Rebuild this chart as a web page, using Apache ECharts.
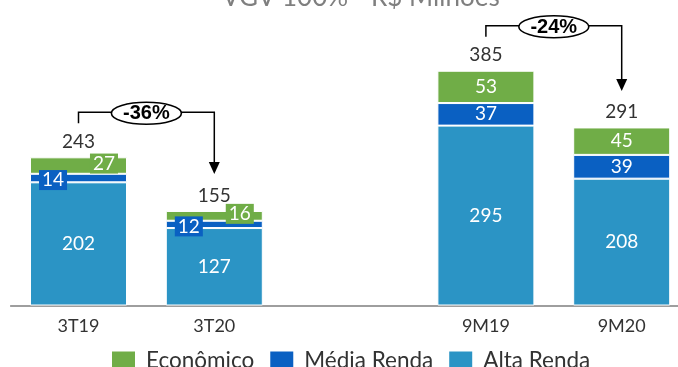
<!DOCTYPE html>
<html>
<head>
<meta charset="utf-8">
<script src="https://cdn.jsdelivr.net/npm/echarts@6/dist/echarts.min.js"></script>
<style>
  html, body { margin: 0; padding: 0; background: #fff; }
  #chart { width: 678px; height: 367px; }
</style>
</head>
<body>
<div id="chart"></div>
<script>
// Launch value (VGV 100%) in R$ millions, by period
const categories = ['3T19', '3T20', '', '9M19', '9M20'];
const altaRenda  = [202, 127, null, 295, 208];
const mediaRenda = [14, 12, null, 37, 39];
const economico  = [27, 16, null, 53, 45];
const totals     = [243, 155, null, 385, 291];
// Year-over-year comparisons: [from index, to index, label]
const comparisons = [[0, 1, '-36%'], [3, 4, '-24%']];

const FONT = 'Lato, "Noto Sans", sans-serif';
const C_ECO = '#70AD47', C_MED = '#0A60C2', C_ALTA = '#2B94C5';

// Small segments of the quarterly bars carry their label in a coloured tag
function tagged(values, color, side) {
  return values.map((v, i) => {
    if (v === null) return null;
    if (i > 1) return v;
    return {
      value: v,
      label: {
        position: side === 'left' ? 'insideLeft' : 'insideRight',
        distance: 9,
        backgroundColor: color,
        padding: [1, 3, 0, 3],
        offset: side === 'left' ? [0, 2] : [0, -2]
      }
    };
  });
}

const chart = echarts.init(document.getElementById('chart'));
const valueLabel = { show: true, color: '#fff', fontSize: 19, fontFamily: FONT };
const seg = { borderColor: '#fff', borderWidth: 1 };

chart.setOption({
  animation: false,
  title: {
    text: 'VGV 100% - R$ Milhões',
    left: 217,
    top: -20,
    textStyle: { color: '#7F7F7F', fontSize: 26, fontWeight: 'normal', fontFamily: FONT }
  },
  grid: { left: 10.6, width: 679, top: 31.1, bottom: 61.5, containLabel: false, outerBoundsMode: 'none' },
  legend: {
    data: ['Econômico', 'Média Renda', 'Alta Renda'],
    left: 105, top: 344,
    itemWidth: 25, itemHeight: 20, itemGap: 14,
    icon: 'rect',
    textStyle: { color: '#333', fontSize: 22.5, fontFamily: FONT, padding: [0, 0, 0, 5] }
  },
  xAxis: {
    type: 'category',
    data: categories,
    axisLine: { lineStyle: { color: '#7F7F7F', width: 1.5 } },
    axisTick: { show: false },
    axisLabel: { color: '#333', fontSize: 18, fontFamily: FONT, margin: 12 }
  },
  yAxis: { type: 'value', min: 0, max: 450, show: false, splitLine: { show: false } },
  series: [
    { name: 'Alta Renda', type: 'bar', stack: 'vgv', barWidth: 97, data: altaRenda,
      itemStyle: Object.assign({ color: C_ALTA }, seg), label: valueLabel },
    { name: 'Média Renda', type: 'bar', stack: 'vgv', data: tagged(mediaRenda, C_MED, 'left'),
      itemStyle: Object.assign({ color: C_MED }, seg), label: valueLabel },
    { name: 'Econômico', type: 'bar', stack: 'vgv', data: tagged(economico, C_ECO, 'right'),
      itemStyle: Object.assign({ color: C_ECO }, seg), label: valueLabel },
    { name: 'Total', type: 'bar', stack: 'vgv', data: totals.map(t => t === null ? null : 0),
      itemStyle: { color: 'transparent' },
      label: { show: true, position: 'top', distance: 6, color: '#333', fontSize: 19, fontFamily: FONT,
               formatter: p => totals[p.dataIndex] } }
  ]
});

// Comparison brackets with arrows between periods
function drawBrackets() {
  const els = [];
  comparisons.forEach(([a, b, txt]) => {
    const pa = chart.convertToPixel({ xAxisIndex: 0, yAxisIndex: 0 }, [a, totals[a]]);
    const pb = chart.convertToPixel({ xAxisIndex: 0, yAxisIndex: 0 }, [b, totals[b]]);
    const yTop = pa[1] - 45;
    const tipY = pb[1] - 37;
    els.push({
      type: 'polyline',
      shape: { points: [[pa[0], pa[1] - 34], [pa[0], yTop], [pb[0], yTop], [pb[0], tipY - 11]] },
      style: { stroke: '#000', lineWidth: 1.5, fill: null }
    });
    els.push({
      type: 'polygon',
      shape: { points: [[pb[0] - 5.5, tipY - 12], [pb[0] + 5.5, tipY - 12], [pb[0], tipY]] },
      style: { fill: '#000' }
    });
    const cx = (pa[0] + pb[0]) / 2;
    els.push({
      type: 'ellipse',
      shape: { cx: cx, cy: yTop + 1, rx: 35, ry: 11 },
      style: { fill: '#fff', stroke: '#000', lineWidth: 1.6 },
      z: 10
    });
    els.push({
      type: 'text',
      x: cx, y: yTop + 1.5,
      style: { text: txt, align: 'center', verticalAlign: 'middle', fill: '#000',
               font: 'bold 20px "Liberation Sans Narrow", "Liberation Sans", sans-serif' },
      z: 11
    });
  });
  chart.setOption({ graphic: els });
}
drawBrackets();
</script>
</body>
</html>
